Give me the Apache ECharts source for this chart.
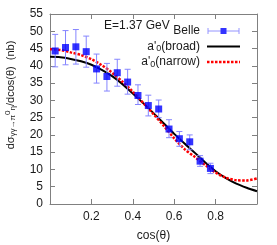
<!DOCTYPE html>
<html>
<head>
<meta charset="utf-8">
<script src="https://cdn.jsdelivr.net/npm/echarts@6/dist/echarts.min.js"></script>
<style>
html,body{margin:0;padding:0;background:#fff;}
#chart{width:277px;height:245px;}
</style>
</head>
<body>
<div id="chart"></div>
<script>
// Belle data points
var belleX  = [0.025,0.075,0.125,0.175,0.225,0.275,0.325,0.375,0.425,0.475,0.525,0.575,0.625,0.675,0.725,0.775];
var belleY  = [44.3, 45.3, 45.5, 44.1, 39.1, 36.9, 38.0, 35.3, 31.4, 28.5, 27.5, 21.7, 18.9, 18.0, 12.4, 10.3];
var belleLo = [39.7, 40.3, 40.5, 39.6, 35.0, 32.7, 34.1, 31.8, 28.8, 25.5, 25.0, 19.2, 16.7, 15.7, 10.9, 8.8];
var belleHi = [49.1, 50.2, 50.5, 48.6, 43.4, 40.7, 41.9, 39.0, 34.5, 31.5, 30.1, 24.4, 21.0, 20.0, 14.0, 11.8];
// model curves
var curveX  = [0,0.05,0.1,0.15,0.2,0.25,0.3,0.35,0.4,0.45,0.5,0.55,0.6,0.65,0.7,0.75,0.8,0.85,0.9,0.95,1.0];
var broadY  = [42.6,42.5,42.0,41.3,40.3,38.8,37.0,34.7,32.0,29.2,26.3,23.3,20.3,17.5,14.8,12.0,9.5,7.5,5.9,4.7,3.7];
var narrowY = [44.8,44.6,43.9,43.1,41.9,40.2,38.0,35.4,32.5,29.3,26.0,22.6,19.0,15.9,13.6,11.3,9.1,7.6,6.9,6.8,7.4];
// ticks
var xTickLabels = ['0.2','0.4','0.6','0.8'];
var yMin = 0, yMax = 55, yStep = 5;
var xMin = 0, xMax = 1, xStep = 0.2;

var seriesNames = ["Belle", "a'0(broad)", "a'0(narrow)"];

var FONT = 'Liberation Sans, Arial, sans-serif';
var chart = echarts.init(document.getElementById('chart'), null, {renderer:'canvas'});

function zip(a,b){ return a.map(function(v,i){ return [v,b[i]]; }); }
var errData = belleX.map(function(x,i){ return [x, belleLo[i], belleHi[i]]; });

function svgIcon(body){
  var svg = '<svg xmlns="http://www.w3.org/2000/svg" width="33" height="14">' + body + '</svg>';
  return 'image://data:image/svg+xml;charset=utf-8,' + encodeURIComponent(svg);
}
var belleIcon = svgIcon(
  '<line x1="1" y1="7" x2="32" y2="7" stroke="#7a7aff" stroke-width="1"/>' +
  '<line x1="1" y1="4" x2="1" y2="10" stroke="#7a7aff" stroke-width="1"/>' +
  '<line x1="32" y1="4" x2="32" y2="10" stroke="#7a7aff" stroke-width="1"/>' +
  '<rect x="13.5" y="4" width="6" height="6" fill="#0000ff"/>');
var broadIcon = svgIcon('<line x1="0" y1="7" x2="33" y2="7" stroke="#000000" stroke-width="2"/>');
var narrowIcon = svgIcon('<line x1="0" y1="7" x2="33" y2="7" stroke="#ff0000" stroke-width="2.5" stroke-dasharray="2.5,1.5"/>');

var axisLineColor = '#808080';
var labelColor = '#1a1a1a';

var option = {
  animation: false,
  textStyle: {fontFamily: FONT},
  grid: {left: 50, right: 20, top: 14, bottom: 41, outerBoundsMode: 'none'},
  title: {
    text: 'E=1.37 GeV', left: 99, top: 15,
    textStyle: {fontFamily: FONT, fontSize: 12, fontWeight: 'normal', color: labelColor}
  },
  legend: {
    orient: 'vertical', right: 32, top: 19, align: 'right',
    itemWidth: 33, itemHeight: 14, itemGap: 1.5,
    textStyle: {fontFamily: FONT, fontSize: 12, color: labelColor, lineHeight: 14, padding: [0,2,0,0],
      rich: {s: {fontSize: 9, lineHeight: 14, verticalAlign: 'bottom', padding: [3,0,0,0]}}},
    formatter: function(n){ return n.replace("'0", "'{s|0}"); },
    data: [{name: seriesNames[0], icon: belleIcon},
           {name: seriesNames[1], icon: broadIcon},
           {name: seriesNames[2], icon: narrowIcon}]
  },
  xAxis: [{
    type: 'value', min: xMin, max: xMax, interval: xStep, position: 'bottom',
    name: 'cos(θ)', nameLocation: 'middle', nameGap: 26,
    nameTextStyle: {fontFamily: FONT, fontSize: 12, color: labelColor},
    axisLine: {onZero: false, lineStyle: {color: axisLineColor, width: 1}},
    axisTick: {inside: true, length: 5, lineStyle: {color: axisLineColor}},
    splitLine: {show: false},
    axisLabel: {fontFamily: FONT, fontSize: 12, color: labelColor, margin: 7,
      formatter: function(v){ var s = v.toFixed(1); return xTickLabels.indexOf(s) >= 0 ? s : ''; }}
  },{
    type: 'value', min: xMin, max: xMax, interval: xStep, position: 'top',
    axisLine: {onZero: false, lineStyle: {color: axisLineColor, width: 1}},
    axisTick: {inside: true, length: 5, lineStyle: {color: axisLineColor}},
    splitLine: {show: false}, axisLabel: {show: false}
  }],
  yAxis: [{
    type: 'value', min: yMin, max: yMax, interval: yStep, position: 'left',
    name: 'dσ{s|γγ→π}{u|0}{s|η}/dcos(θ)  (nb)', nameLocation: 'middle', nameGap: 33,
    nameTextStyle: {fontFamily: FONT, fontSize: 11, color: labelColor, padding: [0,0,0,28],
      rich: {s: {fontSize: 8, verticalAlign: 'bottom', padding: [5,0,0,0]},
             u: {fontSize: 8, verticalAlign: 'top'}}},
    axisLine: {onZero: false, lineStyle: {color: axisLineColor, width: 1}},
    axisTick: {inside: true, length: 5, lineStyle: {color: axisLineColor}},
    splitLine: {show: false},
    axisLabel: {fontFamily: FONT, fontSize: 12, color: labelColor, margin: 7}
  },{
    type: 'value', min: yMin, max: yMax, interval: yStep, position: 'right',
    axisLine: {onZero: false, lineStyle: {color: axisLineColor, width: 1}},
    axisTick: {inside: true, length: 5, lineStyle: {color: axisLineColor}},
    splitLine: {show: false}, axisLabel: {show: false}
  }],
  series: [
    {
      name: seriesNames[1], type: 'line', smooth: 0.3, symbol: 'none',
      data: zip(curveX, broadY), z: 3,
      lineStyle: {color: '#000000', width: 2}, itemStyle: {color: '#000000'}
    },
    {
      name: seriesNames[2], type: 'line', smooth: 0.3, symbol: 'none',
      data: zip(curveX, narrowY), z: 4,
      lineStyle: {color: '#ff0000', width: 2.5, type: [2.5, 1.5]}, itemStyle: {color: '#ff0000'}
    },
    {
      name: 'err', type: 'custom', z: 5,
      data: errData,
      renderItem: function(params, api){
        var x = api.value(0);
        var lo = api.coord([x, api.value(1)]);
        var hi = api.coord([x, api.value(2)]);
        var hw = 3;
        var st = {stroke: '#8585ff', lineWidth: 1};
        return {type: 'group', children: [
          {type: 'line', shape: {x1: lo[0], y1: lo[1], x2: hi[0], y2: hi[1]}, style: st},
          {type: 'line', shape: {x1: lo[0]-hw, y1: lo[1], x2: lo[0]+hw, y2: lo[1]}, style: st},
          {type: 'line', shape: {x1: hi[0]-hw, y1: hi[1], x2: hi[0]+hw, y2: hi[1]}, style: st}
        ]};
      },
      encode: {x: 0, y: [1,2]}
    },
    {
      name: seriesNames[0], type: 'scatter', symbol: 'rect', symbolSize: 7, z: 6,
      data: zip(belleX, belleY), itemStyle: {color: '#0000ff'}
    }
  ]
};
chart.setOption(option);
</script>
</body>
</html>
